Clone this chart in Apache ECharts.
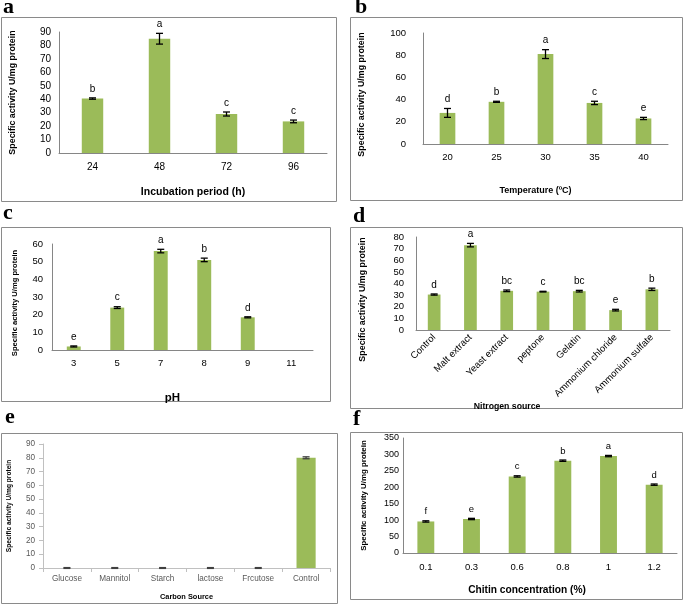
<!DOCTYPE html>
<html>
<head>
<meta charset="utf-8">
<script src="https://cdn.jsdelivr.net/npm/echarts@6/dist/echarts.min.js"></script>
<style>
html,body{margin:0;padding:0;background:#fff;}
#chart{width:685px;height:605px;}
</style>
</head>
<body>
<div id="chart"></div>
<script>
// ---- Data ----
const incubCats = ['24', '48', '72', '96'];
const incubVals = [40.5, 85, 29, 23.5];
const incubErr = [0.5, 4, 1.5, 1];
const incubSig = ['b', 'a', 'c', 'c'];

const tempCats = ['20', '25', '30', '35', '40'];
const tempVals = [28, 38, 81, 37, 23];
const tempErr = [4, 0.5, 4, 1.5, 1];
const tempSig = ['d', 'b', 'a', 'c', 'e'];

const phCats = ['3', '5', '7', '8', '9', '11'];
const phVals = [2, 24, 56, 51, 18.5, 0];
const phErr = [0.3, 0.5, 1, 1, 0.3, 0];
const phSig = ['e', 'c', 'a', 'b', 'd', ''];

const nitroCats = ['Control', 'Malt extract', 'Yeast extract', 'peptone', 'Gelatin', 'Ammonium chloride', 'Ammonium sulfate'];
const nitroVals = [30.5, 73, 33.7, 33, 33.4, 17.1, 35];
const nitroErr = [0.5, 1.5, 0.7, 0.3, 0.7, 0.7, 1];
const nitroSig = ['d', 'a', 'bc', 'c', 'bc', 'e', 'b'];

const carbonCats = ['Glucose', 'Mannitol', 'Starch', 'lactose', 'Frcutose', 'Control'];
const carbonVals = [0, 0, 0, 0, 0, 80];
const carbonErr = [0.3, 0.3, 0.3, 0.3, 0.3, 0.7];
const carbonSig = ['', '', '', '', '', ''];

const chitinCats = ['0.1', '0.3', '0.6', '0.8', '1', '1.2'];
const chitinVals = [96, 103.5, 233, 281, 295, 208];
const chitinErr = [2, 2, 2, 2, 2, 2];
const chitinSig = ['f', 'e', 'c', 'b', 'a', 'd'];

const yTitle = 'Specific activity U/mg protein';

// ---- Layout / style ----
const FONT = '"Liberation Sans", Arial, sans-serif';
const GREEN = '#9bbb59';

const panels = [
  { letter: 'a', lx: 3, ly: 18, box: [1, 17, 335, 184],
    cats: incubCats, vals: incubVals, errs: incubErr, sig: incubSig,
    grid: { left: 59, top: 32, width: 268, height: 121 }, max: 90, interval: 10,
    barWidth: '32%', yName: yTitle, yNameSize: 8.9, yNameGap: 42, yNamePad: [0, 0, 0, 0],
    yLabSize: 10, yLabMargin: 8, xLabSize: 10, xLabMargin: 9,
    xName: 'Incubation period (h)', xNameSize: 10.5, xNameGap: 34, xNamePad: [0, 0, 0, 0],
    sigSize: 10 },
  { letter: 'b', lx: 355, ly: 18, box: [350, 17, 332, 183],
    cats: tempCats, vals: tempVals, errs: tempErr, sig: tempSig,
    grid: { left: 423, top: 33, width: 245, height: 111 }, max: 100, interval: 20,
    barWidth: '32%', yName: yTitle, yNameSize: 8.9, yNameGap: 57, yNamePad: [0, 12, 0, 0],
    yLabSize: 9.5, yLabMargin: 17, xLabSize: 9.5, xLabMargin: 8,
    xName: 'Temperature (\u00baC)', xNameSize: 9, xNameGap: 42, xNamePad: [0, 20, 0, 0],
    sigSize: 10 },
  { letter: 'c', lx: 3, ly: 224, box: [1, 227, 329, 174],
    cats: phCats, vals: phVals, errs: phErr, sig: phSig,
    grid: { left: 52, top: 244, width: 261, height: 106 }, max: 60, interval: 10,
    barWidth: '32%', yName: yTitle, yNameSize: 7.6, yNameGap: 33, yNamePad: [0, 12, 0, 0],
    yLabSize: 9.5, yLabMargin: 9, xLabSize: 9.5, xLabMargin: 8,
    xName: 'pH', xNameSize: 11.5, xNameGap: 42, xNamePad: [0, 20, 0, 0],
    sigSize: 10 },
  { letter: 'd', lx: 353, ly: 227, box: [350, 227, 332, 181],
    cats: nitroCats, vals: nitroVals, errs: nitroErr, sig: nitroSig,
    grid: { left: 416, top: 237, width: 254, height: 93 }, max: 80, interval: 10,
    barWidth: '35%', yName: yTitle, yNameSize: 8.9, yNameGap: 49, yNamePad: [0, 32, 0, 0],
    yLabSize: 9.5, yLabMargin: 12, xLabSize: 9.5, xLabMargin: 6, xRotate: 45,
    xName: 'Nitrogen source', xNameSize: 8.7, xNameGap: 62, xNamePad: [0, 72, 0, 0],
    sigSize: 10 },
  { letter: 'e', lx: 5, ly: 428, box: [1, 433, 336, 170],
    cats: carbonCats, vals: carbonVals, errs: carbonErr, sig: carbonSig,
    grid: { left: 43, top: 444, width: 287, height: 124 }, max: 90, interval: 10,
    barWidth: '40%', yName: yTitle, yNameSize: 6.6, yNameGap: 30, yNamePad: [0, 0, 0, 0],
    yLabSize: 8.2, yLabMargin: 8, xLabSize: 8.2, xLabMargin: 7,
    xName: 'Carbon Source', xNameSize: 7.4, xNameGap: 25, xNamePad: [0, 0, 0, 0],
    sigSize: 9, light: true },
  { letter: 'f', lx: 353, ly: 430, box: [350, 432, 332, 167],
    cats: chitinCats, vals: chitinVals, errs: chitinErr, sig: chitinSig,
    grid: { left: 403, top: 438, width: 274, height: 115 }, max: 350, interval: 50,
    barWidth: '37%', yName: yTitle, yNameSize: 7.9, yNameGap: 35, yNamePad: [0, 0, 0, 0],
    yLabSize: 9, yLabMargin: 4, xLabSize: 9.5, xLabMargin: 9,
    xName: 'Chitin concentration (%)', xNameSize: 10.2, xNameGap: 32, xNamePad: [0, 26, 0, 0],
    sigSize: 9.5 }
];

const grids = [], xAxes = [], yAxes = [], series = [], graphics = [];

panels.forEach(function (p, i) {
  const axisCol = p.light ? '#c0c0c0' : '#868686';
  const labCol = p.light ? '#595959' : '#000';
  const errCol = p.light ? '#404040' : '#000';
  grids.push(Object.assign({ containLabel: false }, p.grid));
  xAxes.push({
    type: 'category', gridIndex: i, data: p.cats,
    axisLine: { lineStyle: { color: axisCol, width: 1 } },
    axisTick: { show: !!p.light, alignWithLabel: false, length: 4, lineStyle: { color: axisCol } },
    axisLabel: { color: labCol, fontFamily: FONT, fontSize: p.xLabSize, margin: p.xLabMargin,
                 rotate: p.xRotate || 0, interval: 0 },
    name: p.xName, nameLocation: 'middle', nameGap: p.xNameGap,
    nameTextStyle: { fontFamily: FONT, fontWeight: 'bold', fontSize: p.xNameSize, color: '#000',
                     padding: p.xNamePad }
  });
  yAxes.push({
    type: 'value', gridIndex: i, min: 0, max: p.max, interval: p.interval,
    axisLine: { show: true, lineStyle: { color: axisCol, width: 1 } },
    axisTick: { show: !!p.light, length: 4, lineStyle: { color: axisCol } },
    splitLine: { show: false },
    axisLabel: { color: labCol, fontFamily: FONT, fontSize: p.yLabSize, margin: p.yLabMargin },
    name: p.yName, nameLocation: 'middle', nameGap: p.yNameGap, nameRotate: 90,
    nameTextStyle: { fontFamily: FONT, fontWeight: 'bold', fontSize: p.yNameSize, color: '#000',
                     padding: p.yNamePad }
  });
  series.push({
    type: 'bar', xAxisIndex: i, yAxisIndex: i, data: p.vals,
    barWidth: p.barWidth, itemStyle: { color: GREEN }, silent: true
  });
  const errData = p.vals.map(function (v, k) { return [k, v, p.errs[k]]; });
  const sig = p.sig, sigSize = p.sigSize;
  series.push({
    type: 'custom', xAxisIndex: i, yAxisIndex: i, data: errData, silent: true, z: 5,
    renderItem: function (params, api) {
      const k = api.value(0), v = api.value(1), e = api.value(2);
      const children = [];
      const top = api.coord([k, v + e]);
      const bot = api.coord([k, v - e]);
      const cap = 3.5;
      if (e > 0) {
        const ls = { stroke: errCol, lineWidth: 1.3 };
        children.push({ type: 'line', shape: { x1: top[0], y1: top[1], x2: bot[0], y2: bot[1] }, style: ls });
        children.push({ type: 'line', shape: { x1: top[0] - cap, y1: top[1], x2: top[0] + cap, y2: top[1] }, style: ls });
        children.push({ type: 'line', shape: { x1: bot[0] - cap, y1: bot[1], x2: bot[0] + cap, y2: bot[1] }, style: ls });
      }
      const s = sig[params.dataIndex];
      if (s) {
        children.push({ type: 'text', style: { text: s, x: top[0], y: top[1] - 4, align: 'center',
          verticalAlign: 'bottom', fill: '#000', font: sigSize + 'px ' + FONT } });
      }
      return { type: 'group', children: children };
    }
  });
  graphics.push({ type: 'rect', shape: { x: p.box[0] + 0.5, y: p.box[1] + 0.5, width: p.box[2], height: p.box[3] },
    style: { fill: 'none', stroke: '#8a8a8a', lineWidth: 1 }, silent: true });
  graphics.push({ type: 'text', x: p.lx, y: p.ly, silent: true,
    style: { text: p.letter, fill: '#000', font: 'bold 22px "Liberation Serif", "Times New Roman", serif',
             verticalAlign: 'bottom', align: 'left' } });
});

const chart = echarts.init(document.getElementById('chart'), null, { renderer: 'canvas' });
chart.setOption({
  animation: false,
  backgroundColor: '#fff',
  grid: grids, xAxis: xAxes, yAxis: yAxes, series: series, graphic: graphics
});
</script>
</body>
</html>
